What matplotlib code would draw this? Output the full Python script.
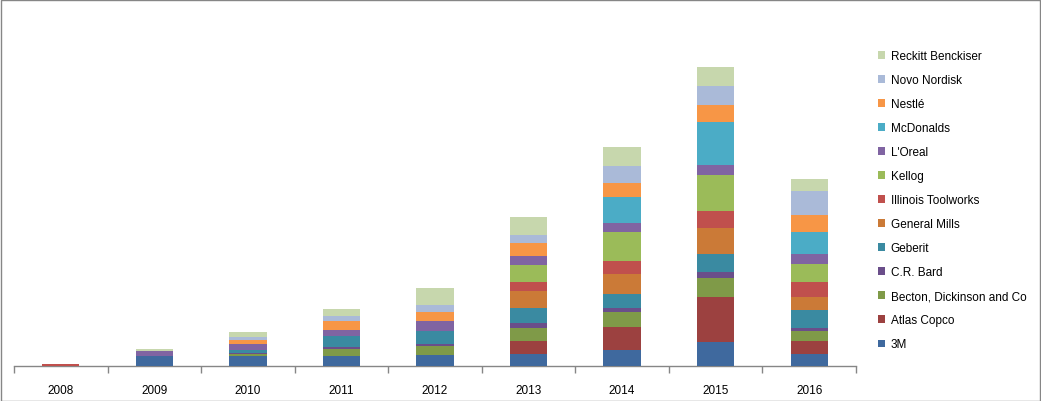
import matplotlib
matplotlib.use("Agg")
import matplotlib.pyplot as plt
from matplotlib.patches import Rectangle
import numpy as np

years = ["2008", "2009", "2010", "2011", "2012", "2013", "2014", "2015", "2016"]
companies = ["3M", "Atlas Copco", "Becton, Dickinson and Co", "C.R. Bard", "Geberit",
             "General Mills", "Illinois Toolworks", "Kellog", "L'Oreal", "McDonalds",
             "Nestlé", "Novo Nordisk", "Reckitt Benckiser"]
colors = ["#3F699E", "#9C4140", "#7F9A48", "#6A4E8A", "#3A8AA1", "#CB7A37",
          "#C0504D", "#9BBB59", "#8064A2", "#4BACC6", "#F79646", "#AABAD8", "#C7D7AD"]

# values per company (one per year)
v_3m        = [0, 9.7, 10.3, 10.0, 11.0, 11.7, 16.0, 23.7, 11.7]
v_atlas     = [0, 0,   0,    0,    0,    13.3, 23.0, 45.3, 13.3]
v_becton    = [0, 0,   1.7,  7.0,  9.0,  13.0, 15.0, 19.0, 10.0]
v_crbard    = [0, 0.8, 1.3,  2.0,  2.0,  5.0,  4.0,  6.0,  3.0]
v_geberit   = [0, 0,   2.4,  10.7, 13.3, 14.7, 14.0, 18.0, 18.0]
v_genmills  = [0, 0,   0,    0,    0,    17.3, 20.0, 26.0, 13.0]
v_illinois  = [2.0, 0, 0,    0,    0,    9.0,  13.3, 17.0, 15.0]
v_kellog    = [0, 0,   0,    0,    0,    17.0, 28.7, 36.0, 18.0]
v_loreal    = [0, 5.0, 6.3,  6.0,  9.7,  8.7,  9.0,  10.0, 10.0]
v_mcd       = [0, 0,   0,    0,    0,    0,    26.0, 42.7, 22.0]
v_nestle    = [0, 0,   3.7,  9.3,  9.0,  13.3, 14.3, 17.3, 17.0]
v_novo      = [0, 0,   3.3,  4.7,  7.0,  8.0,  16.7, 19.0, 24.0]
v_reckitt   = [0, 2.0, 5.3,  7.3,  17.0, 17.7, 19.0, 19.0, 12.0]

series = [v_3m, v_atlas, v_becton, v_crbard, v_geberit, v_genmills, v_illinois,
          v_kellog, v_loreal, v_mcd, v_nestle, v_novo, v_reckitt]

W, H = 1041, 402
fig = plt.figure(figsize=(W / 100, H / 100), dpi=100)
plt.rcParams['font.family'] = ['Liberation Sans', 'DejaVu Sans']

left, right, bottom, top = 14, 856, 367, 10
ax = fig.add_axes([left / W, (H - bottom) / H, (right - left) / W, (bottom - top) / H])

x = np.arange(len(years))
base = np.zeros(len(years))
handles = []
for name, vals, col in zip(companies, series, colors):
    vals = np.array(vals, dtype=float)
    b = ax.bar(x, vals, width=0.4, bottom=base, color=col, label=name, linewidth=0, zorder=3)
    handles.append(b)
    base += vals

ax.set_xlim(-0.5, len(years) - 0.5)
ax.set_ylim(0, bottom - top)
for s in ["top", "right", "left"]:
    ax.spines[s].set_visible(False)
ax.spines["bottom"].set_color("#868686")
ax.spines["bottom"].set_linewidth(1.0)
ax.spines["bottom"].set_zorder(2)
ax.set_yticks([])
ax.set_xticks(x)
ax.set_xticklabels(years, fontsize=8.5, color="#000000")
ax.tick_params(axis="x", which="major", length=0, pad=13)
ax.set_xticks(np.arange(len(years) + 1) - 0.5, minor=True)
ax.tick_params(axis="x", which="minor", length=5, color="#868686", width=1, direction="out")

leg = fig.legend(handles[::-1], companies[::-1], loc="upper left",
                 bbox_to_anchor=(878 / W, 1 - 51 / H), frameon=False,
                 fontsize=8.5, handlelength=0.62, handleheight=0.62,
                 handletextpad=0.45, labelspacing=1.02, borderpad=0, borderaxespad=0)

fig.patches.append(Rectangle((0.5 / W, 0.5 / H), 1 - 1.5 / W, 1 - 1.5 / H,
                             transform=fig.transFigure, fill=False,
                             edgecolor="#868686", linewidth=1.0))

fig.savefig("out.png", dpi=100)
